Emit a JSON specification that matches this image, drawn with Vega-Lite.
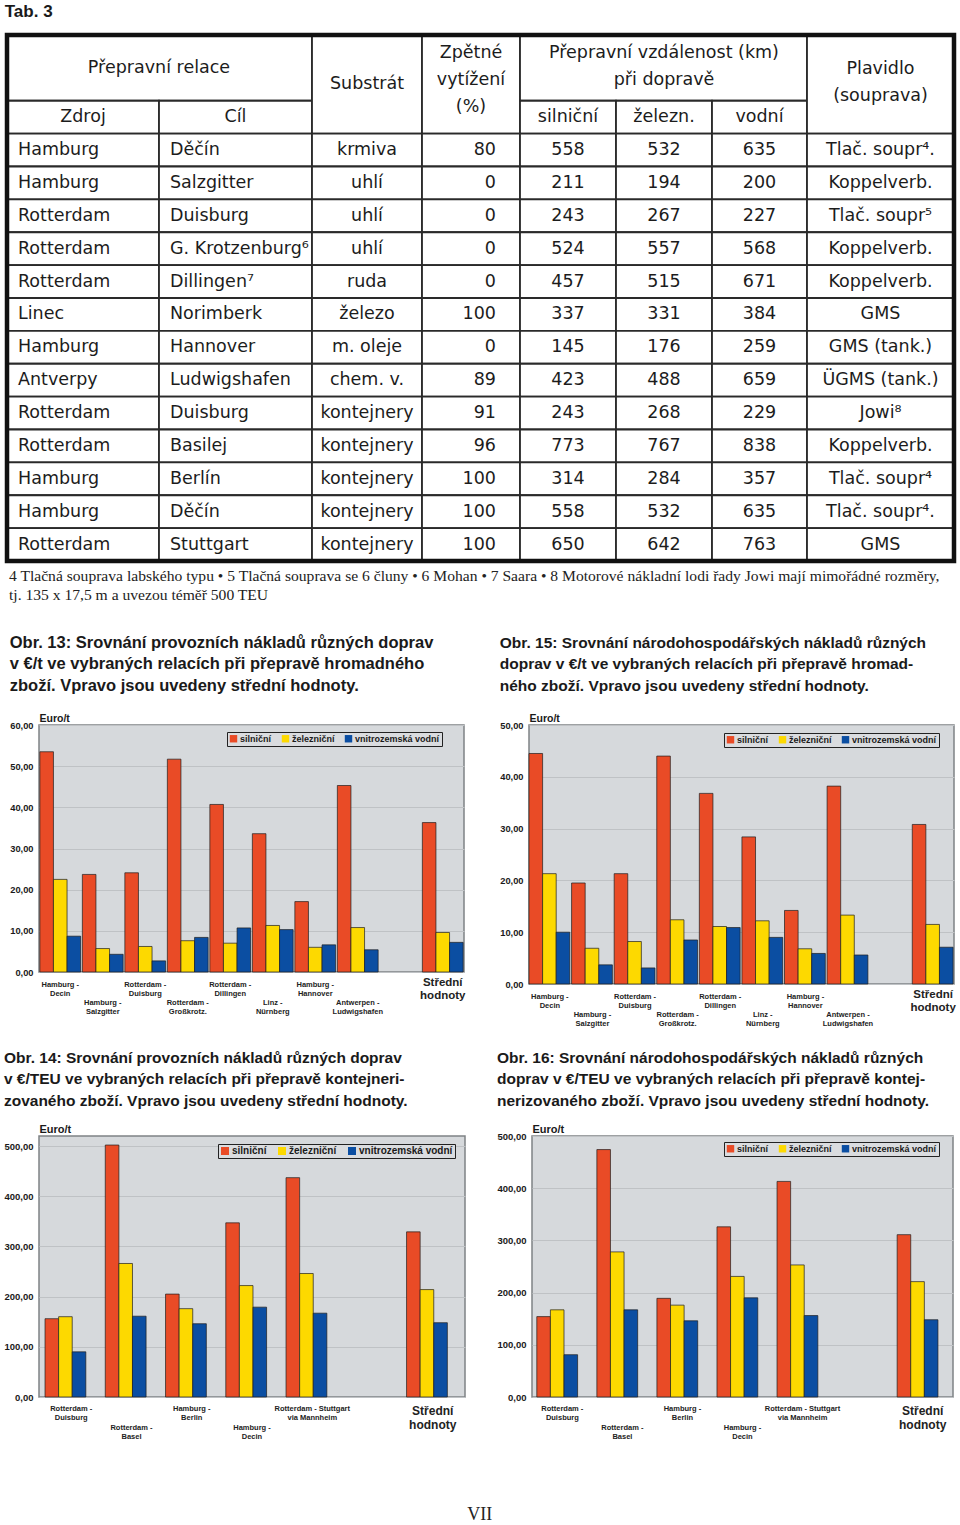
{
"$schema": "https://vega.github.io/schema/vega-lite/v6.json",
"padding": {"left": 3, "top": 2, "right": 0, "bottom": 0},
"background": "#ffffff",
"config": {
  "locale": {"number": {"decimal": ",", "thousands": " ", "grouping": [3], "currency": ["", ""]}},
  "view": {"stroke": null}
},
"resolve": {"scale": {"color": "independent"}, "legend": {"color": "independent"}},
"title": {"text": "VII", "orient": "bottom", "anchor": "middle", "font": "Liberation Serif", "fontSize": 18, "fontWeight": "normal", "color": "#222222", "offset": 65},
"datasets": {
  "tab": [
    {"c":0,"ce":2,"r":0,"re":2,"t":"Přepravní relace"},
    {"c":0,"ce":1,"r":2,"re":3,"t":"Zdroj"},
    {"c":1,"ce":2,"r":2,"re":3,"t":"Cíl"},
    {"c":2,"ce":3,"r":0,"re":3,"t":"Substrát"},
    {"c":3,"ce":4,"r":0,"re":3,"t":["Zpětné","vytížení","(%)"]},
    {"c":4,"ce":7,"r":0,"re":2,"t":["Přepravní vzdálenost (km)","při dopravě"]},
    {"c":4,"ce":5,"r":2,"re":3,"t":"silniční"},
    {"c":5,"ce":6,"r":2,"re":3,"t":"železn."},
    {"c":6,"ce":7,"r":2,"re":3,"t":"vodní"},
    {"c":7,"ce":8,"r":0,"re":3,"t":["Plavidlo","(souprava)"]},
    {"c":0,"ce":1,"r":3,"re":4,"t":"Hamburg"},{"c":1,"ce":2,"r":3,"re":4,"t":"Děčín"},{"c":2,"ce":3,"r":3,"re":4,"t":"krmiva"},{"c":3,"ce":4,"r":3,"re":4,"t":"80"},{"c":4,"ce":5,"r":3,"re":4,"t":"558"},{"c":5,"ce":6,"r":3,"re":4,"t":"532"},{"c":6,"ce":7,"r":3,"re":4,"t":"635"},{"c":7,"ce":8,"r":3,"re":4,"t":"Tlač. soupr⁴."},
    {"c":0,"ce":1,"r":4,"re":5,"t":"Hamburg"},{"c":1,"ce":2,"r":4,"re":5,"t":"Salzgitter"},{"c":2,"ce":3,"r":4,"re":5,"t":"uhlí"},{"c":3,"ce":4,"r":4,"re":5,"t":"0"},{"c":4,"ce":5,"r":4,"re":5,"t":"211"},{"c":5,"ce":6,"r":4,"re":5,"t":"194"},{"c":6,"ce":7,"r":4,"re":5,"t":"200"},{"c":7,"ce":8,"r":4,"re":5,"t":"Koppelverb."},
    {"c":0,"ce":1,"r":5,"re":6,"t":"Rotterdam"},{"c":1,"ce":2,"r":5,"re":6,"t":"Duisburg"},{"c":2,"ce":3,"r":5,"re":6,"t":"uhlí"},{"c":3,"ce":4,"r":5,"re":6,"t":"0"},{"c":4,"ce":5,"r":5,"re":6,"t":"243"},{"c":5,"ce":6,"r":5,"re":6,"t":"267"},{"c":6,"ce":7,"r":5,"re":6,"t":"227"},{"c":7,"ce":8,"r":5,"re":6,"t":"Tlač. soupr⁵"},
    {"c":0,"ce":1,"r":6,"re":7,"t":"Rotterdam"},{"c":1,"ce":2,"r":6,"re":7,"t":"G. Krotzenburg⁶"},{"c":2,"ce":3,"r":6,"re":7,"t":"uhlí"},{"c":3,"ce":4,"r":6,"re":7,"t":"0"},{"c":4,"ce":5,"r":6,"re":7,"t":"524"},{"c":5,"ce":6,"r":6,"re":7,"t":"557"},{"c":6,"ce":7,"r":6,"re":7,"t":"568"},{"c":7,"ce":8,"r":6,"re":7,"t":"Koppelverb."},
    {"c":0,"ce":1,"r":7,"re":8,"t":"Rotterdam"},{"c":1,"ce":2,"r":7,"re":8,"t":"Dillingen⁷"},{"c":2,"ce":3,"r":7,"re":8,"t":"ruda"},{"c":3,"ce":4,"r":7,"re":8,"t":"0"},{"c":4,"ce":5,"r":7,"re":8,"t":"457"},{"c":5,"ce":6,"r":7,"re":8,"t":"515"},{"c":6,"ce":7,"r":7,"re":8,"t":"671"},{"c":7,"ce":8,"r":7,"re":8,"t":"Koppelverb."},
    {"c":0,"ce":1,"r":8,"re":9,"t":"Linec"},{"c":1,"ce":2,"r":8,"re":9,"t":"Norimberk"},{"c":2,"ce":3,"r":8,"re":9,"t":"železo"},{"c":3,"ce":4,"r":8,"re":9,"t":"100"},{"c":4,"ce":5,"r":8,"re":9,"t":"337"},{"c":5,"ce":6,"r":8,"re":9,"t":"331"},{"c":6,"ce":7,"r":8,"re":9,"t":"384"},{"c":7,"ce":8,"r":8,"re":9,"t":"GMS"},
    {"c":0,"ce":1,"r":9,"re":10,"t":"Hamburg"},{"c":1,"ce":2,"r":9,"re":10,"t":"Hannover"},{"c":2,"ce":3,"r":9,"re":10,"t":"m. oleje"},{"c":3,"ce":4,"r":9,"re":10,"t":"0"},{"c":4,"ce":5,"r":9,"re":10,"t":"145"},{"c":5,"ce":6,"r":9,"re":10,"t":"176"},{"c":6,"ce":7,"r":9,"re":10,"t":"259"},{"c":7,"ce":8,"r":9,"re":10,"t":"GMS (tank.)"},
    {"c":0,"ce":1,"r":10,"re":11,"t":"Antverpy"},{"c":1,"ce":2,"r":10,"re":11,"t":"Ludwigshafen"},{"c":2,"ce":3,"r":10,"re":11,"t":"chem. v."},{"c":3,"ce":4,"r":10,"re":11,"t":"89"},{"c":4,"ce":5,"r":10,"re":11,"t":"423"},{"c":5,"ce":6,"r":10,"re":11,"t":"488"},{"c":6,"ce":7,"r":10,"re":11,"t":"659"},{"c":7,"ce":8,"r":10,"re":11,"t":"ÜGMS (tank.)"},
    {"c":0,"ce":1,"r":11,"re":12,"t":"Rotterdam"},{"c":1,"ce":2,"r":11,"re":12,"t":"Duisburg"},{"c":2,"ce":3,"r":11,"re":12,"t":"kontejnery"},{"c":3,"ce":4,"r":11,"re":12,"t":"91"},{"c":4,"ce":5,"r":11,"re":12,"t":"243"},{"c":5,"ce":6,"r":11,"re":12,"t":"268"},{"c":6,"ce":7,"r":11,"re":12,"t":"229"},{"c":7,"ce":8,"r":11,"re":12,"t":"Jowi⁸"},
    {"c":0,"ce":1,"r":12,"re":13,"t":"Rotterdam"},{"c":1,"ce":2,"r":12,"re":13,"t":"Basilej"},{"c":2,"ce":3,"r":12,"re":13,"t":"kontejnery"},{"c":3,"ce":4,"r":12,"re":13,"t":"96"},{"c":4,"ce":5,"r":12,"re":13,"t":"773"},{"c":5,"ce":6,"r":12,"re":13,"t":"767"},{"c":6,"ce":7,"r":12,"re":13,"t":"838"},{"c":7,"ce":8,"r":12,"re":13,"t":"Koppelverb."},
    {"c":0,"ce":1,"r":13,"re":14,"t":"Hamburg"},{"c":1,"ce":2,"r":13,"re":14,"t":"Berlín"},{"c":2,"ce":3,"r":13,"re":14,"t":"kontejnery"},{"c":3,"ce":4,"r":13,"re":14,"t":"100"},{"c":4,"ce":5,"r":13,"re":14,"t":"314"},{"c":5,"ce":6,"r":13,"re":14,"t":"284"},{"c":6,"ce":7,"r":13,"re":14,"t":"357"},{"c":7,"ce":8,"r":13,"re":14,"t":"Tlač. soupr⁴"},
    {"c":0,"ce":1,"r":14,"re":15,"t":"Hamburg"},{"c":1,"ce":2,"r":14,"re":15,"t":"Děčín"},{"c":2,"ce":3,"r":14,"re":15,"t":"kontejnery"},{"c":3,"ce":4,"r":14,"re":15,"t":"100"},{"c":4,"ce":5,"r":14,"re":15,"t":"558"},{"c":5,"ce":6,"r":14,"re":15,"t":"532"},{"c":6,"ce":7,"r":14,"re":15,"t":"635"},{"c":7,"ce":8,"r":14,"re":15,"t":"Tlač. soupr⁴."},
    {"c":0,"ce":1,"r":15,"re":16,"t":"Rotterdam"},{"c":1,"ce":2,"r":15,"re":16,"t":"Stuttgart"},{"c":2,"ce":3,"r":15,"re":16,"t":"kontejnery"},{"c":3,"ce":4,"r":15,"re":16,"t":"100"},{"c":4,"ce":5,"r":15,"re":16,"t":"650"},{"c":5,"ce":6,"r":15,"re":16,"t":"642"},{"c":6,"ce":7,"r":15,"re":16,"t":"763"},{"c":7,"ce":8,"r":15,"re":16,"t":"GMS"}
  ],
  "t13": [
    {"relace":"Hamburg -\nDecin","doprava":"silniční","hodnota":53.5},{"relace":"Hamburg -\nDecin","doprava":"železniční","hodnota":22.5},{"relace":"Hamburg -\nDecin","doprava":"vnitrozemská vodní","hodnota":8.7},
    {"relace":"Hamburg -\nSalzgitter","doprava":"silniční","hodnota":23.7},{"relace":"Hamburg -\nSalzgitter","doprava":"železniční","hodnota":5.7},{"relace":"Hamburg -\nSalzgitter","doprava":"vnitrozemská vodní","hodnota":4.3},
    {"relace":"Rotterdam -\nDuisburg","doprava":"silniční","hodnota":24.1},{"relace":"Rotterdam -\nDuisburg","doprava":"železniční","hodnota":6.2},{"relace":"Rotterdam -\nDuisburg","doprava":"vnitrozemská vodní","hodnota":2.7},
    {"relace":"Rotterdam -\nGroßkrotz.","doprava":"silniční","hodnota":51.7},{"relace":"Rotterdam -\nGroßkrotz.","doprava":"železniční","hodnota":7.6},{"relace":"Rotterdam -\nGroßkrotz.","doprava":"vnitrozemská vodní","hodnota":8.4},
    {"relace":"Rotterdam -\nDillingen","doprava":"silniční","hodnota":40.7},{"relace":"Rotterdam -\nDillingen","doprava":"železniční","hodnota":7.0},{"relace":"Rotterdam -\nDillingen","doprava":"vnitrozemská vodní","hodnota":10.7},
    {"relace":"Linz -\nNürnberg","doprava":"silniční","hodnota":33.6},{"relace":"Linz -\nNürnberg","doprava":"železniční","hodnota":11.3},{"relace":"Linz -\nNürnberg","doprava":"vnitrozemská vodní","hodnota":10.3},
    {"relace":"Hamburg -\nHannover","doprava":"silniční","hodnota":17.1},{"relace":"Hamburg -\nHannover","doprava":"železniční","hodnota":6.0},{"relace":"Hamburg -\nHannover","doprava":"vnitrozemská vodní","hodnota":6.6},
    {"relace":"Antwerpen -\nLudwigshafen","doprava":"silniční","hodnota":45.3},{"relace":"Antwerpen -\nLudwigshafen","doprava":"železniční","hodnota":10.8},{"relace":"Antwerpen -\nLudwigshafen","doprava":"vnitrozemská vodní","hodnota":5.4},
    {"relace":"Střední\nhodnoty","doprava":"silniční","hodnota":36.3},{"relace":"Střední\nhodnoty","doprava":"železniční","hodnota":9.6},{"relace":"Střední\nhodnoty","doprava":"vnitrozemská vodní","hodnota":7.2}
  ],
  "t15": [
    {"relace":"Hamburg -\nDecin","doprava":"silniční","hodnota":44.5},{"relace":"Hamburg -\nDecin","doprava":"železniční","hodnota":21.3},{"relace":"Hamburg -\nDecin","doprava":"vnitrozemská vodní","hodnota":10.0},
    {"relace":"Hamburg -\nSalzgitter","doprava":"silniční","hodnota":19.5},{"relace":"Hamburg -\nSalzgitter","doprava":"železniční","hodnota":6.9},{"relace":"Hamburg -\nSalzgitter","doprava":"vnitrozemská vodní","hodnota":3.7},
    {"relace":"Rotterdam -\nDuisburg","doprava":"silniční","hodnota":21.3},{"relace":"Rotterdam -\nDuisburg","doprava":"železniční","hodnota":8.2},{"relace":"Rotterdam -\nDuisburg","doprava":"vnitrozemská vodní","hodnota":3.1},
    {"relace":"Rotterdam -\nGroßkrotz.","doprava":"silniční","hodnota":44.0},{"relace":"Rotterdam -\nGroßkrotz.","doprava":"železniční","hodnota":12.4},{"relace":"Rotterdam -\nGroßkrotz.","doprava":"vnitrozemská vodní","hodnota":8.5},
    {"relace":"Rotterdam -\nDillingen","doprava":"silniční","hodnota":36.8},{"relace":"Rotterdam -\nDillingen","doprava":"železniční","hodnota":11.1},{"relace":"Rotterdam -\nDillingen","doprava":"vnitrozemská vodní","hodnota":10.9},
    {"relace":"Linz -\nNürnberg","doprava":"silniční","hodnota":28.4},{"relace":"Linz -\nNürnberg","doprava":"železniční","hodnota":12.2},{"relace":"Linz -\nNürnberg","doprava":"vnitrozemská vodní","hodnota":9.0},
    {"relace":"Hamburg -\nHannover","doprava":"silniční","hodnota":14.2},{"relace":"Hamburg -\nHannover","doprava":"železniční","hodnota":6.8},{"relace":"Hamburg -\nHannover","doprava":"vnitrozemská vodní","hodnota":5.9},
    {"relace":"Antwerpen -\nLudwigshafen","doprava":"silniční","hodnota":38.2},{"relace":"Antwerpen -\nLudwigshafen","doprava":"železniční","hodnota":13.3},{"relace":"Antwerpen -\nLudwigshafen","doprava":"vnitrozemská vodní","hodnota":5.6},
    {"relace":"Střední\nhodnoty","doprava":"silniční","hodnota":30.8},{"relace":"Střední\nhodnoty","doprava":"železniční","hodnota":11.5},{"relace":"Střední\nhodnoty","doprava":"vnitrozemská vodní","hodnota":7.1}
  ],
  "t14": [
    {"relace":"Rotterdam -\nDuisburg","doprava":"silniční","hodnota":156},{"relace":"Rotterdam -\nDuisburg","doprava":"železniční","hodnota":160},{"relace":"Rotterdam -\nDuisburg","doprava":"vnitrozemská vodní","hodnota":90},
    {"relace":"Rotterdam -\nBasel","doprava":"silniční","hodnota":502},{"relace":"Rotterdam -\nBasel","doprava":"železniční","hodnota":266},{"relace":"Rotterdam -\nBasel","doprava":"vnitrozemská vodní","hodnota":161},
    {"relace":"Hamburg -\nBerlin","doprava":"silniční","hodnota":205},{"relace":"Hamburg -\nBerlin","doprava":"železniční","hodnota":176},{"relace":"Hamburg -\nBerlin","doprava":"vnitrozemská vodní","hodnota":146},
    {"relace":"Hamburg -\nDecin","doprava":"silniční","hodnota":347},{"relace":"Hamburg -\nDecin","doprava":"železniční","hodnota":222},{"relace":"Hamburg -\nDecin","doprava":"vnitrozemská vodní","hodnota":179},
    {"relace":"Rotterdam - Stuttgart\nvia Mannheim","doprava":"silniční","hodnota":437},{"relace":"Rotterdam - Stuttgart\nvia Mannheim","doprava":"železniční","hodnota":246},{"relace":"Rotterdam - Stuttgart\nvia Mannheim","doprava":"vnitrozemská vodní","hodnota":167},
    {"relace":"Střední\nhodnoty","doprava":"silniční","hodnota":329},{"relace":"Střední\nhodnoty","doprava":"železniční","hodnota":214},{"relace":"Střední\nhodnoty","doprava":"vnitrozemská vodní","hodnota":148}
  ],
  "t16": [
    {"relace":"Rotterdam -\nDuisburg","doprava":"silniční","hodnota":154},{"relace":"Rotterdam -\nDuisburg","doprava":"železniční","hodnota":167},{"relace":"Rotterdam -\nDuisburg","doprava":"vnitrozemská vodní","hodnota":81},
    {"relace":"Rotterdam -\nBasel","doprava":"silniční","hodnota":474},{"relace":"Rotterdam -\nBasel","doprava":"železniční","hodnota":278},{"relace":"Rotterdam -\nBasel","doprava":"vnitrozemská vodní","hodnota":167},
    {"relace":"Hamburg -\nBerlin","doprava":"silniční","hodnota":189},{"relace":"Hamburg -\nBerlin","doprava":"železniční","hodnota":176},{"relace":"Hamburg -\nBerlin","doprava":"vnitrozemská vodní","hodnota":146},
    {"relace":"Hamburg -\nDecin","doprava":"silniční","hodnota":326},{"relace":"Hamburg -\nDecin","doprava":"železniční","hodnota":231},{"relace":"Hamburg -\nDecin","doprava":"vnitrozemská vodní","hodnota":190},
    {"relace":"Rotterdam - Stuttgart\nvia Mannheim","doprava":"silniční","hodnota":413},{"relace":"Rotterdam - Stuttgart\nvia Mannheim","doprava":"železniční","hodnota":253},{"relace":"Rotterdam - Stuttgart\nvia Mannheim","doprava":"vnitrozemská vodní","hodnota":156},
    {"relace":"Střední\nhodnoty","doprava":"silniční","hodnota":311},{"relace":"Střední\nhodnoty","doprava":"železniční","hodnota":221},{"relace":"Střední\nhodnoty","doprava":"vnitrozemská vodní","hodnota":148}
  ]
},
"spacing": 21,
"vconcat": [
  {
    "spacing": 5,
    "resolve": {"scale": {"color": "independent"}, "legend": {"color": "independent"}},
    "vconcat": [
      {
        "width": 915, "height": 526,
        "title": {"text": "Tab. 3", "anchor": "start", "frame": "bounds", "font": "Liberation Sans", "fontSize": 17, "fontWeight": "bold", "color": "#1a1a1a", "offset": 12},
        "data": {"name": "tab"},
        "layer": [
          {
            "mark": {"type": "rect", "fill": "#ffffff", "stroke": "#2a2a2a", "strokeWidth": 1.8},
            "encoding": {
              "x": {"field": "c", "type": "quantitative", "scale": {"domain": [0,1,2,3,4,5,6,7,8], "range": [-32,120,273,383,481,577,673,768,915], "nice": false, "zero": false}, "axis": null},
              "x2": {"field": "ce"},
              "y": {"field": "r", "type": "quantitative", "scale": {"domain": [0,16], "range": [0,526], "nice": false, "zero": false}, "axis": null},
              "y2": {"field": "re"}
            }
          },
          {
            "data": {"values": [{}]},
            "mark": {"type": "rect", "fill": "#ffffff", "fillOpacity": 0, "stroke": "#111111", "strokeWidth": 4.5},
            "encoding": {
              "x": {"datum": 0, "type": "quantitative"},
              "x2": {"datum": 8},
              "y": {"datum": 0, "type": "quantitative"},
              "y2": {"datum": 16}
            }
          },
          {
            "transform": [
              {"fold": ["c", "ce"], "as": ["ck", "cv"]},
              {"fold": ["r", "re"], "as": ["rk", "rv"]},
              {"aggregate": [
                {"op": "mean", "field": "cv", "as": "cm"},
                {"op": "min", "field": "cv", "as": "cl"},
                {"op": "max", "field": "cv", "as": "cr"},
                {"op": "mean", "field": "rv", "as": "rm"}
              ], "groupby": ["t", "c", "r"]}
            ],
            "layer": [
              {
                "transform": [{"filter": "datum.r >= 3 && datum.c < 2"}],
                "mark": {"type": "text", "align": "left", "baseline": "middle", "dx": 11, "font": "DejaVu Sans", "fontSize": 17.5, "color": "#1c1c1c"},
                "encoding": {"x": {"field": "cl", "type": "quantitative"}, "y": {"field": "rm", "type": "quantitative"}, "text": {"field": "t", "type": "nominal"}}
              },
              {
                "transform": [{"filter": "datum.r >= 3 && datum.c == 3"}],
                "mark": {"type": "text", "align": "right", "baseline": "middle", "dx": -24, "font": "DejaVu Sans", "fontSize": 17.5, "color": "#1c1c1c"},
                "encoding": {"x": {"field": "cr", "type": "quantitative"}, "y": {"field": "rm", "type": "quantitative"}, "text": {"field": "t", "type": "nominal"}}
              },
              {
                "transform": [{"filter": "!isArray(datum.t) && !(datum.r >= 3 && (datum.c < 2 || datum.c == 3))"}],
                "mark": {"type": "text", "align": "center", "baseline": "middle", "font": "DejaVu Sans", "fontSize": 17.5, "color": "#1c1c1c"},
                "encoding": {"x": {"field": "cm", "type": "quantitative"}, "y": {"field": "rm", "type": "quantitative"}, "text": {"field": "t", "type": "nominal"}}
              },
              {
                "transform": [{"filter": "isArray(datum.t) && length(datum.t) == 2"}],
                "mark": {"type": "text", "align": "center", "baseline": "middle", "lineHeight": 27, "dy": -15, "font": "DejaVu Sans", "fontSize": 17.5, "color": "#1c1c1c"},
                "encoding": {"x": {"field": "cm", "type": "quantitative"}, "y": {"field": "rm", "type": "quantitative"}, "text": {"field": "t", "type": "nominal"}}
              },
              {
                "transform": [{"filter": "isArray(datum.t) && length(datum.t) == 3"}],
                "mark": {"type": "text", "align": "center", "baseline": "middle", "lineHeight": 27, "dy": -31, "font": "DejaVu Sans", "fontSize": 17.5, "color": "#1c1c1c"},
                "encoding": {"x": {"field": "cm", "type": "quantitative"}, "y": {"field": "rm", "type": "quantitative"}, "text": {"field": "t", "type": "nominal"}}
              }
            ]
          }
        ]
      },
      {
        "title": {"text": ["4 Tlačná souprava labského typu • 5 Tlačná souprava se 6 čluny • 6 Mohan • 7 Saara • 8 Motorové nákladní lodi řady Jowi mají mimořádné rozměry,", "tj. 135 x 17,5 m a uvezou téměř 500 TEU"], "anchor": "start", "font": "Liberation Serif", "fontSize": 15.6, "fontWeight": "normal", "lineHeight": 19, "color": "#222222", "offset": 30},
        "spacing": 32,
        "resolve": {"scale": {"color": "independent"}, "legend": {"color": "independent"}},
        "hconcat": [
          {
            "width": 425, "height": 247,
            "view": {"fill": "#d6d9dc", "stroke": "#7f8285", "strokeWidth": 1.5},
            "title": {"text": ["Obr. 13: Srovnání provozních nákladů různých doprav", "v €/t ve vybraných relacích při přepravě hromadného", "zboží. Vpravo jsou uvedeny střední hodnoty."], "anchor": "start", "frame": "bounds", "font": "Liberation Sans", "fontSize": 16.5, "fontWeight": "bold", "lineHeight": 21.5, "color": "#1a1a1a", "offset": 19},
            "data": {"name": "t13"},
            "mark": {"type": "bar", "stroke": "#1e1e1e", "strokeWidth": 0.7},
            "encoding": {
              "x": {"field": "relace", "type": "nominal", "sort": null,
                "scale": {"domain": ["Hamburg -\nDecin","Hamburg -\nSalzgitter","Rotterdam -\nDuisburg","Rotterdam -\nGroßkrotz.","Rotterdam -\nDillingen","Linz -\nNürnberg","Hamburg -\nHannover","Antwerpen -\nLudwigshafen"," ","Střední\nhodnoty"], "paddingInner": 0.04, "paddingOuter": 0.02},
                "axis": {"title": null, "labelAngle": 0, "ticks": false, "domain": false, "labelExpr": "split(datum.label, '\\n')", "labelOverlap": false, "labelLimit": 0, "labelFont": "Liberation Sans", "labelFontWeight": "bold", "labelColor": "#222222",
                  "labelFontSize": {"condition": {"test": "indexof(datum.value, 'Střední') >= 0", "value": 11.5}, "value": 7.5},
                  "labelPadding": {"condition": [{"test": "indexof(datum.value, 'Střední') >= 0", "value": 4}, {"test": "indexof(datum.value, 'Salzgitter') >= 0 || indexof(datum.value, 'Großkrotz') >= 0 || indexof(datum.value, 'Nürnberg') >= 0 || indexof(datum.value, 'Ludwigshafen') >= 0", "value": 26}], "value": 8}}},
              "xOffset": {"field": "doprava", "type": "nominal", "sort": null, "scale": {"domain": ["silniční","železniční","vnitrozemská vodní"]}},
              "y": {"field": "hodnota", "type": "quantitative", "scale": {"domain": [0, 60], "nice": false},
                "axis": {"title": "Euro/t", "titleAngle": 0, "titleAlign": "left", "titleBaseline": "bottom", "titleX": 0, "titleY": -2, "titleFont": "Liberation Sans", "titleFontSize": 10.5, "titleFontWeight": "bold", "titleColor": "#1a1a1a", "values": [0,10,20,30,40,50,60], "format": ".2f", "ticks": false, "domain": false, "labelFont": "Liberation Sans", "labelFontSize": 9.3, "labelFontWeight": "bold", "labelColor": "#1a1a1a", "labelPadding": 6, "gridColor": "#bfc2c5", "gridWidth": 1}},
              "color": {"field": "doprava", "type": "nominal", "scale": {"domain": ["silniční","železniční","vnitrozemská vodní"], "range": ["#e94b26","#fdd900","#0b4ea2"]},
                "legend": {"title": null, "orient": "none", "legendX": 188, "legendY": 7, "direction": "horizontal", "symbolType": "square", "symbolSize": 55, "symbolStrokeWidth": 0, "labelFont": "Liberation Sans", "labelFontSize": 9, "labelFontWeight": "bold", "labelColor": "#1a1a1a", "fillColor": "#dadcdf", "strokeColor": "#222222", "padding": 2, "columnPadding": 9, "labelOffset": 2}}
            }
          },
          {
            "width": 425, "height": 259,
            "view": {"fill": "#d6d9dc", "stroke": "#7f8285", "strokeWidth": 1.5},
            "title": {"text": ["Obr. 15: Srovnání národohospodářských nákladů různých", "doprav  v €/t ve vybraných relacích při přepravě hromad-", "ného zboží. Vpravo jsou uvedeny střední hodnoty."], "anchor": "start", "frame": "bounds", "font": "Liberation Sans", "fontSize": 15.5, "fontWeight": "bold", "lineHeight": 21.5, "color": "#1a1a1a", "offset": 19},
            "data": {"name": "t15"},
            "mark": {"type": "bar", "stroke": "#1e1e1e", "strokeWidth": 0.7},
            "encoding": {
              "x": {"field": "relace", "type": "nominal", "sort": null,
                "scale": {"domain": ["Hamburg -\nDecin","Hamburg -\nSalzgitter","Rotterdam -\nDuisburg","Rotterdam -\nGroßkrotz.","Rotterdam -\nDillingen","Linz -\nNürnberg","Hamburg -\nHannover","Antwerpen -\nLudwigshafen"," ","Střední\nhodnoty"], "paddingInner": 0.02, "paddingOuter": 0},
                "axis": {"title": null, "labelAngle": 0, "ticks": false, "domain": false, "labelExpr": "split(datum.label, '\\n')", "labelOverlap": false, "labelLimit": 0, "labelFont": "Liberation Sans", "labelFontWeight": "bold", "labelColor": "#222222",
                  "labelFontSize": {"condition": {"test": "indexof(datum.value, 'Střední') >= 0", "value": 11.5}, "value": 7.5},
                  "labelPadding": {"condition": [{"test": "indexof(datum.value, 'Střední') >= 0", "value": 4}, {"test": "indexof(datum.value, 'Salzgitter') >= 0 || indexof(datum.value, 'Großkrotz') >= 0 || indexof(datum.value, 'Nürnberg') >= 0 || indexof(datum.value, 'Ludwigshafen') >= 0", "value": 26}], "value": 8}}},
              "xOffset": {"field": "doprava", "type": "nominal", "sort": null, "scale": {"domain": ["silniční","železniční","vnitrozemská vodní"]}},
              "y": {"field": "hodnota", "type": "quantitative", "scale": {"domain": [0, 50], "nice": false},
                "axis": {"title": "Euro/t", "titleAngle": 0, "titleAlign": "left", "titleBaseline": "bottom", "titleX": 0, "titleY": -2, "titleFont": "Liberation Sans", "titleFontSize": 10.5, "titleFontWeight": "bold", "titleColor": "#1a1a1a", "values": [0,10,20,30,40,50], "format": ".2f", "ticks": false, "domain": false, "labelFont": "Liberation Sans", "labelFontSize": 9.3, "labelFontWeight": "bold", "labelColor": "#1a1a1a", "labelPadding": 6, "gridColor": "#bfc2c5", "gridWidth": 1}},
              "color": {"field": "doprava", "type": "nominal", "scale": {"domain": ["silniční","železniční","vnitrozemská vodní"], "range": ["#e94b26","#fdd900","#0b4ea2"]},
                "legend": {"title": null, "orient": "none", "legendX": 195, "legendY": 8, "direction": "horizontal", "symbolType": "square", "symbolSize": 55, "symbolStrokeWidth": 0, "labelFont": "Liberation Sans", "labelFontSize": 9, "labelFontWeight": "bold", "labelColor": "#1a1a1a", "fillColor": "#dadcdf", "strokeColor": "#222222", "padding": 2, "columnPadding": 9, "labelOffset": 2}}
            }
          }
        ]
      }
    ]
  },
  {
    "spacing": 30,
    "resolve": {"scale": {"color": "independent"}, "legend": {"color": "independent"}},
    "hconcat": [
      {
        "width": 426, "height": 261,
        "view": {"fill": "#d6d9dc", "stroke": "#7f8285", "strokeWidth": 1.5},
        "title": {"text": ["Obr. 14: Srovnání provozních nákladů různých doprav", "v €/TEU ve vybraných relacích při přepravě kontejneri-", "zovaného zboží. Vpravo jsou uvedeny střední hodnoty."], "anchor": "start", "frame": "bounds", "font": "Liberation Sans", "fontSize": 15.5, "fontWeight": "bold", "lineHeight": 21.5, "color": "#1a1a1a", "offset": 14},
        "data": {"name": "t14"},
        "mark": {"type": "bar", "stroke": "#1e1e1e", "strokeWidth": 0.7},
        "encoding": {
          "x": {"field": "relace", "type": "nominal", "sort": null,
            "scale": {"domain": ["Rotterdam -\nDuisburg","Rotterdam -\nBasel","Hamburg -\nBerlin","Hamburg -\nDecin","Rotterdam - Stuttgart\nvia Mannheim"," ","Střední\nhodnoty"], "paddingInner": 0.13, "paddingOuter": 0.1},
            "axis": {"title": null, "labelAngle": 0, "ticks": false, "domain": false, "labelExpr": "split(datum.label, '\\n')", "labelOverlap": false, "labelLimit": 0, "labelFont": "Liberation Sans", "labelFontWeight": "bold", "labelColor": "#222222",
              "labelFontSize": {"condition": {"test": "indexof(datum.value, 'Střední') >= 0", "value": 12}, "value": 7.5},
              "labelPadding": {"condition": [{"test": "indexof(datum.value, 'Střední') >= 0", "value": 8}, {"test": "indexof(datum.value, 'Basel') >= 0 || indexof(datum.value, 'Decin') >= 0", "value": 26}], "value": 7}}},
          "xOffset": {"field": "doprava", "type": "nominal", "sort": null, "scale": {"domain": ["silniční","železniční","vnitrozemská vodní"]}},
          "y": {"field": "hodnota", "type": "quantitative", "scale": {"domain": [0, 520], "nice": false},
            "axis": {"title": "Euro/t", "titleAngle": 0, "titleAlign": "left", "titleBaseline": "bottom", "titleX": 0, "titleY": -2, "titleFont": "Liberation Sans", "titleFontSize": 11, "titleFontWeight": "bold", "titleColor": "#1a1a1a", "values": [0,100,200,300,400,500], "format": ".2f", "ticks": false, "domain": false, "labelFont": "Liberation Sans", "labelFontSize": 9.5, "labelFontWeight": "bold", "labelColor": "#1a1a1a", "labelPadding": 6, "gridColor": "#bfc2c5", "gridWidth": 1}},
          "color": {"field": "doprava", "type": "nominal", "scale": {"domain": ["silniční","železniční","vnitrozemská vodní"], "range": ["#e94b26","#fdd900","#0b4ea2"]},
            "legend": {"title": null, "orient": "none", "legendX": 179, "legendY": 8, "direction": "horizontal", "symbolType": "square", "symbolSize": 64, "symbolStrokeWidth": 0, "labelFont": "Liberation Sans", "labelFontSize": 10, "labelFontWeight": "bold", "labelColor": "#1a1a1a", "fillColor": "#dadcdf", "strokeColor": "#222222", "padding": 2, "columnPadding": 10, "labelOffset": 2}}
        }
      },
      {
        "width": 421, "height": 261,
        "view": {"fill": "#d6d9dc", "stroke": "#7f8285", "strokeWidth": 1.5},
        "title": {"text": ["Obr. 16: Srovnání národohospodářských nákladů různých", "doprav v €/TEU ve vybraných relacích při přepravě kontej-", "nerizovaného zboží. Vpravo jsou uvedeny střední hodnoty."], "anchor": "start", "frame": "bounds", "font": "Liberation Sans", "fontSize": 15.5, "fontWeight": "bold", "lineHeight": 21.5, "color": "#1a1a1a", "offset": 14},
        "data": {"name": "t16"},
        "mark": {"type": "bar", "stroke": "#1e1e1e", "strokeWidth": 0.7},
        "encoding": {
          "x": {"field": "relace", "type": "nominal", "sort": null,
            "scale": {"domain": ["Rotterdam -\nDuisburg","Rotterdam -\nBasel","Hamburg -\nBerlin","Hamburg -\nDecin","Rotterdam - Stuttgart\nvia Mannheim"," ","Střední\nhodnoty"], "paddingInner": 0.15, "paddingOuter": 0.08},
            "axis": {"title": null, "labelAngle": 0, "ticks": false, "domain": false, "labelExpr": "split(datum.label, '\\n')", "labelOverlap": false, "labelLimit": 0, "labelFont": "Liberation Sans", "labelFontWeight": "bold", "labelColor": "#222222",
              "labelFontSize": {"condition": {"test": "indexof(datum.value, 'Střední') >= 0", "value": 12}, "value": 7.5},
              "labelPadding": {"condition": [{"test": "indexof(datum.value, 'Střední') >= 0", "value": 8}, {"test": "indexof(datum.value, 'Basel') >= 0 || indexof(datum.value, 'Decin') >= 0", "value": 26}], "value": 7}}},
          "xOffset": {"field": "doprava", "type": "nominal", "sort": null, "scale": {"domain": ["silniční","železniční","vnitrozemská vodní"]}},
          "y": {"field": "hodnota", "type": "quantitative", "scale": {"domain": [0, 500], "nice": false},
            "axis": {"title": "Euro/t", "titleAngle": 0, "titleAlign": "left", "titleBaseline": "bottom", "titleX": 0, "titleY": -2, "titleFont": "Liberation Sans", "titleFontSize": 11, "titleFontWeight": "bold", "titleColor": "#1a1a1a", "values": [0,100,200,300,400,500], "format": ".2f", "ticks": false, "domain": false, "labelFont": "Liberation Sans", "labelFontSize": 9.5, "labelFontWeight": "bold", "labelColor": "#1a1a1a", "labelPadding": 6, "gridColor": "#bfc2c5", "gridWidth": 1}},
          "color": {"field": "doprava", "type": "nominal", "scale": {"domain": ["silniční","železniční","vnitrozemská vodní"], "range": ["#e94b26","#fdd900","#0b4ea2"]},
            "legend": {"title": null, "orient": "none", "legendX": 192, "legendY": 6, "direction": "horizontal", "symbolType": "square", "symbolSize": 55, "symbolStrokeWidth": 0, "labelFont": "Liberation Sans", "labelFontSize": 9, "labelFontWeight": "bold", "labelColor": "#1a1a1a", "fillColor": "#dadcdf", "strokeColor": "#222222", "padding": 2, "columnPadding": 9, "labelOffset": 2}}
        }
      }
    ]
  }
]
}
